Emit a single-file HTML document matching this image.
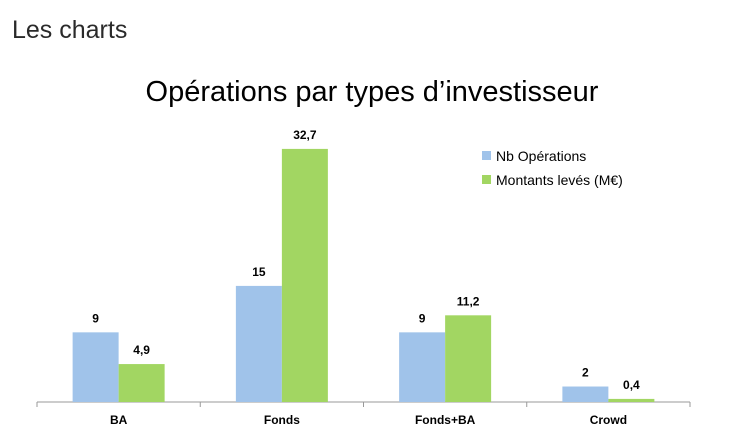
<!DOCTYPE html>
<html><head><meta charset="utf-8"><style>
body{margin:0;width:745px;height:430px;background:#fff;overflow:hidden;font-family:"Liberation Sans",sans-serif}
</style></head><body>
<svg width="745" height="430">
<text x="12" y="38" font-size="25" fill="#2a2a2a" font-family="Liberation Sans, sans-serif">Les charts</text>
<text x="372" y="101" font-size="29" text-anchor="middle" fill="#000">Opérations par types d’investisseur</text>
<g id="plot"></g>
<g>
<rect x="482" y="151" width="9" height="9" fill="#a0c3ea"/>
<text x="496" y="161" font-size="14" fill="#000">Nb Opérations</text>
<rect x="482" y="175" width="9" height="9" fill="#a2d662"/>
<text x="496" y="185" font-size="14" fill="#000">Montants levés (M€)</text>
</g>
</svg>
<script>
const categories=["BA","Fonds","Fonds+BA","Crowd"];
const nbOperations=[9,15,9,2];
const montants=[4.9,32.7,11.2,0.4];
const nbLabels=["9","15","9","2"];
const montantLabels=["4,9","32,7","11,2","0,4"];
const NS="http://www.w3.org/2000/svg";
const g=document.getElementById("plot");
const x0=37,x1=690,y0=402,pxPerUnit=7.74;
const band=(x1-x0)/categories.length;
const y=v=>y0-v*pxPerUnit;
function mk(t,a){const e=document.createElementNS(NS,t);for(const k in a)e.setAttribute(k,a[k]);g.appendChild(e);return e;}
const axis=mk("line",{x1:x0,y1:y0,x2:x1,y2:y0,stroke:"#999","stroke-width":1});


for(let i=0;i<=categories.length;i++){
 const t=mk("line",{x1:x0+i*band,y1:y0,x2:x0+i*band,y2:y0+5,stroke:"#999"});
 
 
}
const bw=46;
categories.forEach((c,i)=>{
 const cx=x0+band*(i+0.5);
 const series=[[nbOperations[i],"#a0c3ea",cx-bw,nbLabels[i],"bar-nb-"],[montants[i],"#a2d662",cx,montantLabels[i],"bar-montants-"]];
 series.forEach(s=>{
  const r=mk("rect",{x:s[2],y:y(s[0]),width:bw,height:y0-y(s[0]),fill:s[1]});
  
  
  const l=mk("text",{x:s[2]+bw/2,y:y(s[0])-10,"text-anchor":"middle","font-size":12,"font-weight":"bold",fill:"#000"});
  l.textContent=s[3];
  
  
 });
 const cl=mk("text",{x:cx,y:424,"text-anchor":"middle","font-size":12,"font-weight":"bold",fill:"#000"});
 cl.textContent=c;
 
 
});
</script>
</body></html>
